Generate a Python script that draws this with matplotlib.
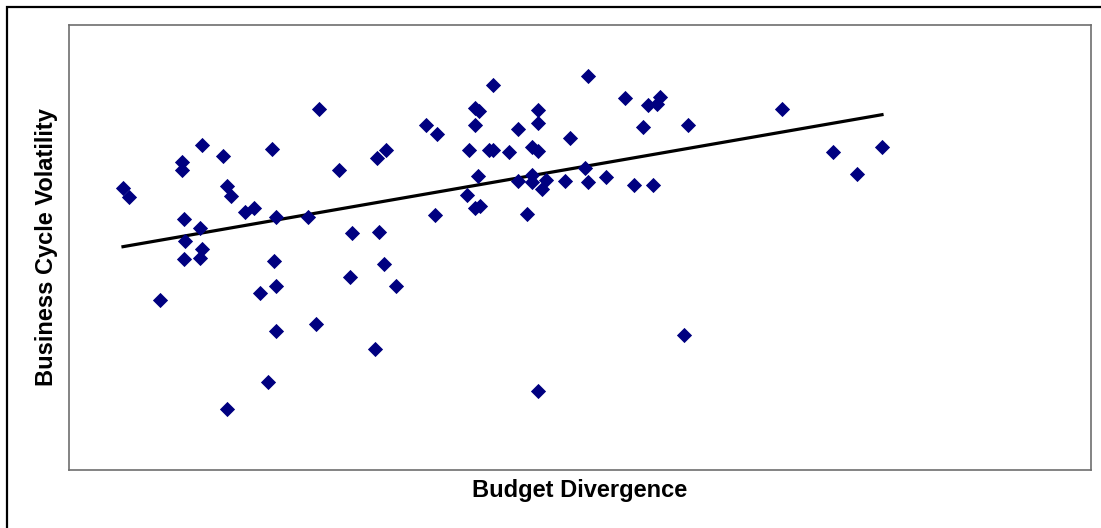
import matplotlib.pyplot as plt
from matplotlib.patches import Rectangle
import numpy as np

plt.rcParams['font.family'] = ['Liberation Sans', 'DejaVu Sans']

# budget divergence (x) and business cycle volatility (y)
budget_div = [54, 60, 113, 113, 133, 154, 158, 162, 203, 250, 270, 308, 317,
              176, 185, 115, 131, 207, 239, 116, 133, 115, 131, 91, 205, 207,
              191, 207, 247, 283, 310, 315, 281, 327, 306, 199, 158,
              424, 519, 556, 579, 588, 591, 619, 574, 406, 410, 469, 357, 368,
              406, 469, 449, 501, 424, 400, 420, 440, 463, 469, 516, 409, 449,
              463, 463, 477, 473, 496, 519, 537, 565, 584, 398, 406, 411, 366,
              458, 615, 469, 713, 764, 813, 788]
volatility = [282, 273, 308, 300, 325, 314, 284, 274, 321, 361, 300, 312, 320,
              258, 262, 251, 242, 253, 253, 229, 221, 211, 212, 170, 209, 184,
              177, 139, 146, 237, 238, 206, 193, 184, 121, 88, 61,
              385, 394, 372, 365, 366, 373, 345, 343, 362, 359, 360, 345, 336,
              345, 347, 341, 332, 320, 320, 320, 318, 323, 319, 302, 294, 289,
              295, 288, 290, 281, 289, 288, 293, 285, 285, 275, 262, 264, 255,
              256, 135, 79, 361, 318, 323, 296]

# linear trend line fitted to the points
fit = np.polyfit(budget_div, volatility, 1)
trend_x = np.array([min(budget_div), max(budget_div)])
trend_y = np.polyval(fit, trend_x)

W, H = 1101, 528
fig = plt.figure(figsize=(W / 100, H / 100), dpi=100)
fig.patch.set_facecolor('white')

# outer chart frame (runs off the right and bottom edge)
fig.patches.append(Rectangle((7 / W, -0.05), 1.1, (H - 7) / H + 0.05,
                             transform=fig.transFigure, fill=False,
                             edgecolor='black', linewidth=1.6))

ax = fig.add_axes([69 / W, (H - 470) / H, (1091 - 69) / W, (470 - 25) / H])
ax.scatter(budget_div, volatility, marker='D', s=60, color='#000080',
           linewidths=0, zorder=3)
ax.plot(trend_x, trend_y, color='black', linewidth=2.3, zorder=2)

ax.set_xlim(0, 1022)
ax.set_ylim(0, 445)
ax.set_xticks([])
ax.set_yticks([])
for sp in ax.spines.values():
    sp.set_color('#6e6e6e')
    sp.set_linewidth(1.2)

fig.text(580 / W, 1 - 491 / H, 'Budget Divergence', ha='center', va='center',
         fontsize=17, fontweight='bold')
fig.text(47 / W, 1 - 247 / H, 'Business Cycle Volatility', ha='center',
         va='center', rotation=90, fontsize=17, fontweight='bold')

fig.savefig('out.png', dpi=100)
